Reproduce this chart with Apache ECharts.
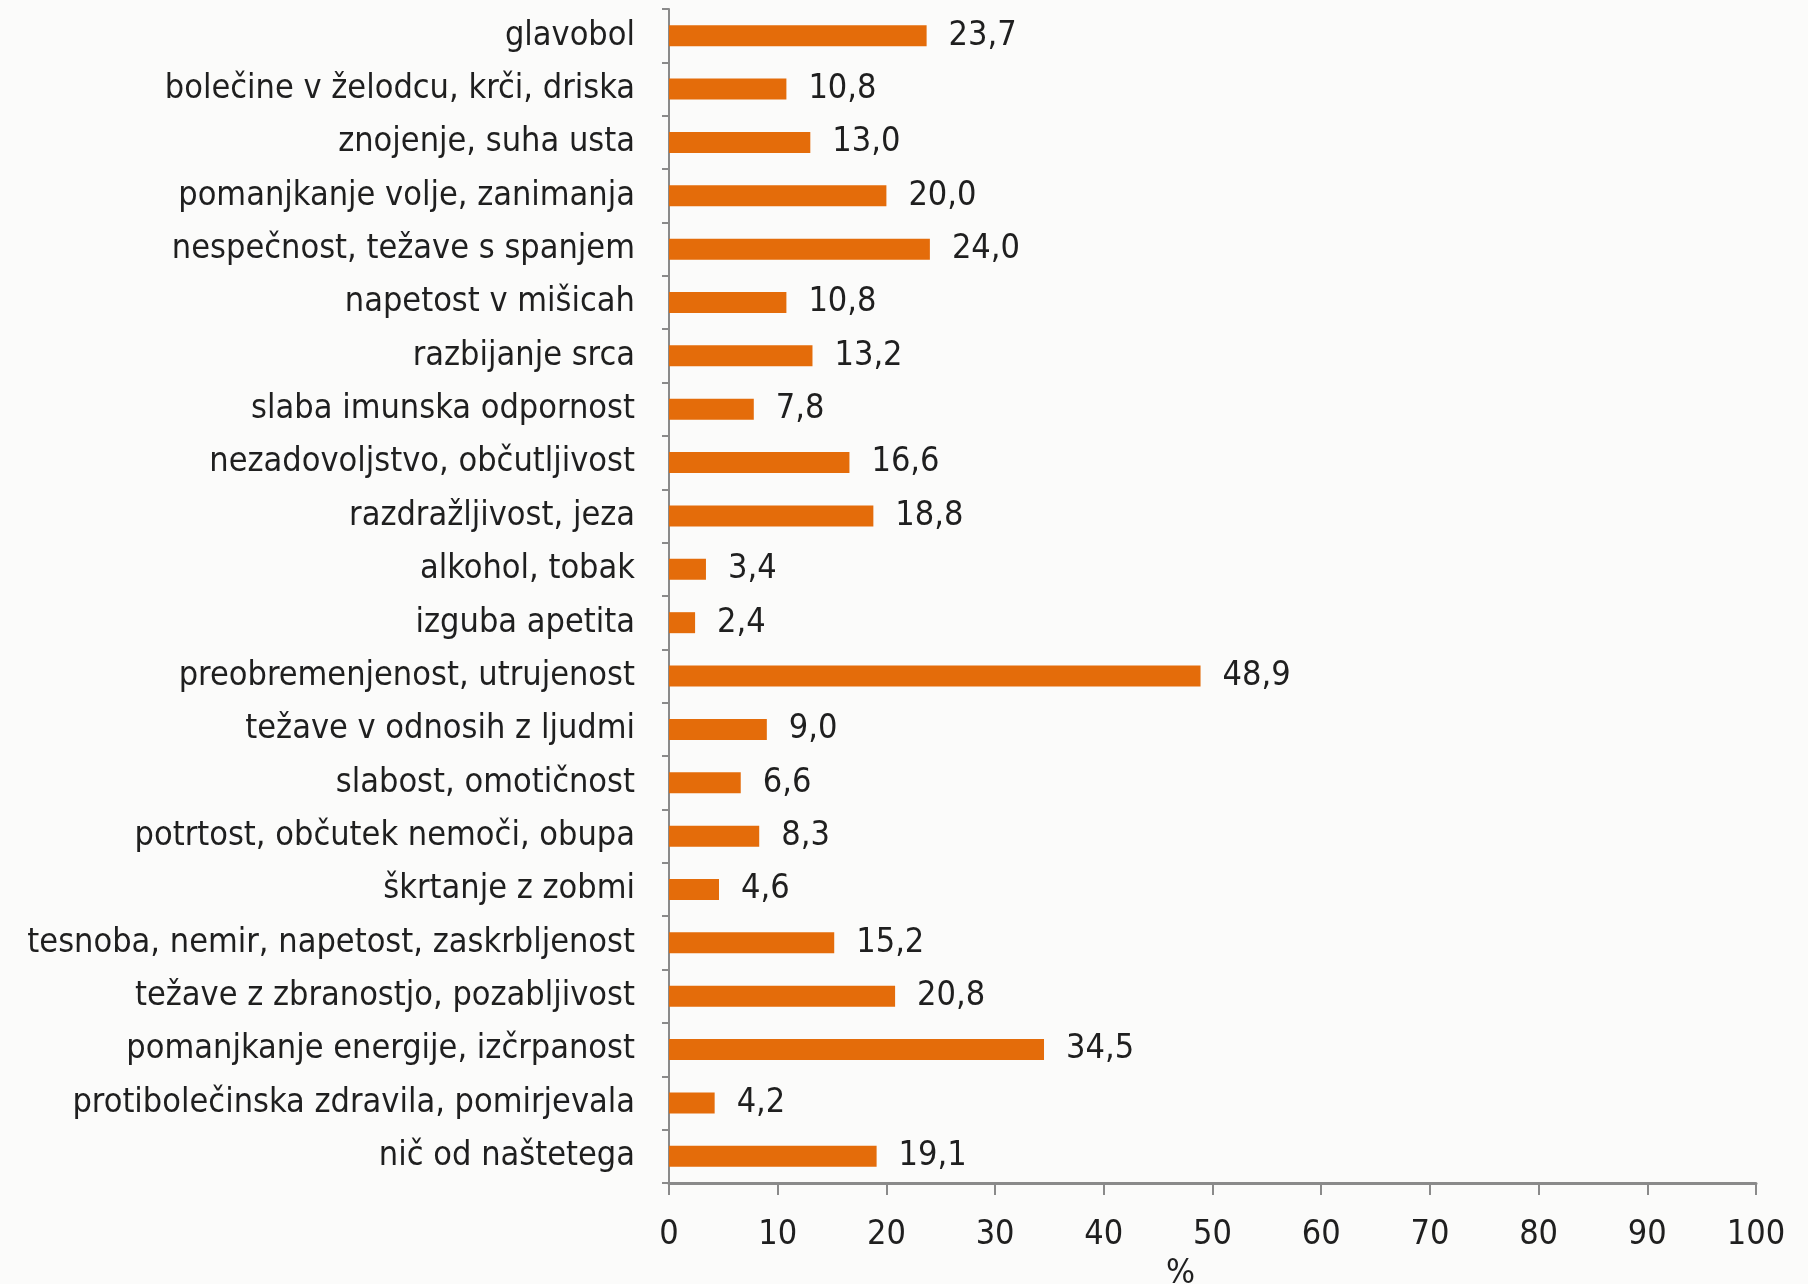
<!DOCTYPE html>
<html>
<head>
<meta charset="utf-8">
<script src="https://cdn.jsdelivr.net/npm/echarts@6/dist/echarts.min.js"></script>
<style>
  html, body { margin: 0; padding: 0; background: #fbfbfa; }
  #chart { width: 1808px; height: 1284px; }
</style>
</head>
<body>
<div id="chart"></div>
<script>
// kategorije, od zgoraj navzdol
const categories = [
  'glavobol',
  'bolečine v želodcu, krči, driska',
  'znojenje, suha usta',
  'pomanjkanje volje, zanimanja',
  'nespečnost, težave s spanjem',
  'napetost v mišicah',
  'razbijanje srca',
  'slaba imunska odpornost',
  'nezadovoljstvo, občutljivost',
  'razdražljivost, jeza',
  'alkohol, tobak',
  'izguba apetita',
  'preobremenjenost, utrujenost',
  'težave v odnosih z ljudmi',
  'slabost, omotičnost',
  'potrtost, občutek nemoči, obupa',
  'škrtanje z zobmi',
  'tesnoba, nemir, napetost, zaskrbljenost',
  'težave z zbranostjo, pozabljivost',
  'pomanjkanje energije, izčrpanost',
  'protibolečinska zdravila, pomirjevala',
  'nič od naštetega'
];

// deleži v %
const values = [
  23.7, 10.8, 13.0, 20.0, 24.0, 10.8, 13.2, 7.8, 16.6, 18.8, 3.4,
  2.4, 48.9, 9.0, 6.6, 8.3, 4.6, 15.2, 20.8, 34.5, 4.2, 19.1
];

const xTicks = { min: 0, max: 100, interval: 10 };

const font = "'Liberation Sans Narrow', 'DejaVu Sans Condensed', sans-serif";
const axisGray = '#8a8a8a';
const textColor = '#1f1f1f';

const chart = echarts.init(document.getElementById('chart'));

chart.setOption({
  backgroundColor: '#fbfbfa',
  animation: false,
  grid: {
    left: 669,
    right: 52,
    top: 9,
    bottom: 101,
    containLabel: false,
    outerBoundsMode: 'none'
  },
  xAxis: {
    type: 'value',
    min: xTicks.min,
    max: xTicks.max,
    interval: xTicks.interval,
    name: '%',
    nameLocation: 'middle',
    nameGap: 74,
    nameTextStyle: {
      fontFamily: font,
      fontSize: 34,
      color: textColor,
      padding: [0, 64, 0, 0]
    },
    axisLine: { show: true, lineStyle: { color: axisGray, width: 3 } },
    axisTick: { show: true, length: 12, lineStyle: { color: axisGray, width: 2 } },
    axisLabel: {
      fontFamily: font,
      fontSize: 34,
      color: textColor,
      margin: 35
    },
    splitLine: { show: false }
  },
  yAxis: {
    type: 'category',
    data: categories,
    inverse: true,
    axisLine: { show: true, lineStyle: { color: axisGray, width: 2 } },
    axisTick: { show: true, length: 7, lineStyle: { color: axisGray, width: 2 } },
    axisLabel: {
      fontFamily: font,
      fontSize: 34,
      color: textColor,
      margin: 34
    }
  },
  series: [{
    type: 'bar',
    data: values,
    barWidth: 21,
    itemStyle: { color: '#e46c0a' },
    label: {
      show: true,
      position: 'right',
      distance: 22,
      fontFamily: font,
      fontSize: 34,
      color: textColor,
      formatter: p => p.value.toFixed(1).replace('.', ',')
    }
  }]
});
</script>
</body>
</html>
